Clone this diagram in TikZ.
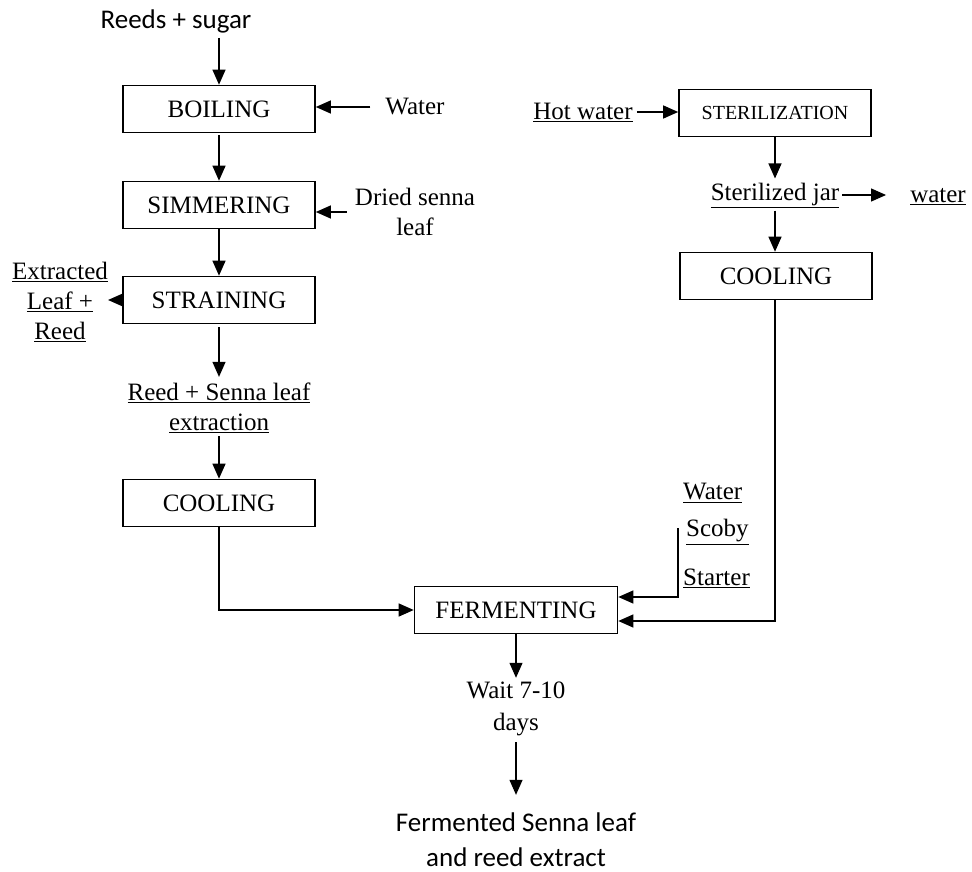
\documentclass[tikz,border=0pt]{standalone}
\usepackage{fontspec}
\setmainfont{Liberation Serif}
\newfontfamily\calibri{Carlito}
\usetikzlibrary{arrows.meta}

\tikzset{
    stage/.style={draw, line width=1.6pt, minimum width=192pt, minimum height=47pt, inner sep=0pt, font=\fontsize{25}{30}\selectfont},
    label/.style={inner sep=0pt, align=center, font=\fontsize{25}{30}\selectfont},
    sans/.style={inner sep=0pt, align=center, font=\calibri\fontsize{27}{35}\selectfont},
    flow/.style={line width=1.2pt, -{Triangle[length=15pt,width=13pt]}}
}

\begin{document}
\begin{tikzpicture}[x=1pt, y=-1pt]
        \useasboundingbox (0, 0) rectangle (972, 872);

        % left line
        \node[sans] (reeds) at (176, 21) {Reeds + sugar};
        \node[stage] (boil) at (219, 109) {BOILING};
        \node[stage] (simmer) at (219, 205) {SIMMERING};
        \node[stage] (strain) at (219, 300) {STRAINING};
        \node[label] (water) at (415, 107) {Water};
        \node[label] (senna) at (415, 212) {Dried senna\\leaf};
        \node[label] (spent) at (60, 302) {\underline{Extracted}\\\underline{Leaf +}\\\underline{Reed}};
        \node[label] (extract) at (219, 408) {\underline{Reed + Senna leaf}\\\underline{extraction}};
        \node[stage] (cool1) at (219, 503) {COOLING};

        \draw[flow, shorten <=5pt] (boil.north |- reeds.south) -- (boil.north);
        \draw[flow, shorten <=15pt] (water.west) -- (water.west -| boil.east);
        \draw[flow, shorten <=2pt] (boil.south) -- (simmer.north);
        \draw[flow, shorten <=8pt] (senna.west) -- (senna.west -| simmer.east);
        \draw[flow] (simmer.south) -- (strain.north);
        \draw[flow] (strain.west) -- (strain.west -| spent.east);
        \draw[flow, shorten <=3pt, shorten >=6pt] (strain.south) -- (extract.north);
        \draw[flow, shorten <=3pt] (extract.south) -- (cool1.north);

        % right line
        \node[label] (hot) at (583, 112) {\underline{Hot water}};
        \node[stage, font=\fontsize{20}{24}\selectfont] (steril) at (775, 113) {STERILIZATION};
        \node[label] (jar) at (775, 195) {\underline{Sterilized jar}};
        \node[label] (drain) at (938, 197) {\underline{water}};
        \node[stage] (cool2) at (776, 276) {COOLING};

        \draw[flow, shorten <=4pt] (hot.east) -- (hot.east -| steril.west);
        \draw[flow, shorten >=4pt] (steril.south) -- (jar.north);
        \draw[flow, shorten <=3pt, shorten >=24pt] (jar.east) -- (jar.east -| drain.west);
        \draw[flow, shorten <=3pt] (jar.south) -- (jar.south |- cool2.north);

        % fermenting
        \node[stage, minimum width=203pt] (ferment) at (516, 610) {FERMENTING};
        \node[label, anchor=west] (mixwater) at (683, 493) {\underline{Water}};
        \node[label, anchor=west] (scoby) at (686, 532) {\underline{Scoby}};
        \node[label, anchor=west] (starter) at (683, 578) {\underline{Starter}};
        \coordinate (mixtop) at (678, 528);

        \draw[flow] (cool1.south) |- (ferment.west);
        \draw[flow] (mixtop) |- ([yshift=13pt]ferment.east);
        \draw[flow] (cool2.south) ++(-1, 0) |- ([yshift=-11pt]ferment.east);

        \node[label, font=\fontsize{25}{32}\selectfont] (wait) at (516, 709) {Wait 7-10\\days};
        \node[sans] (product) at (516, 840) {Fermented Senna leaf\\and reed extract};

        \draw[flow, shorten >=4pt] (ferment.south) -- (wait.north);
        \draw[flow, shorten <=6pt, shorten >=18pt] (wait.south) -- (product.north);
    \end{tikzpicture}
\end{document}
